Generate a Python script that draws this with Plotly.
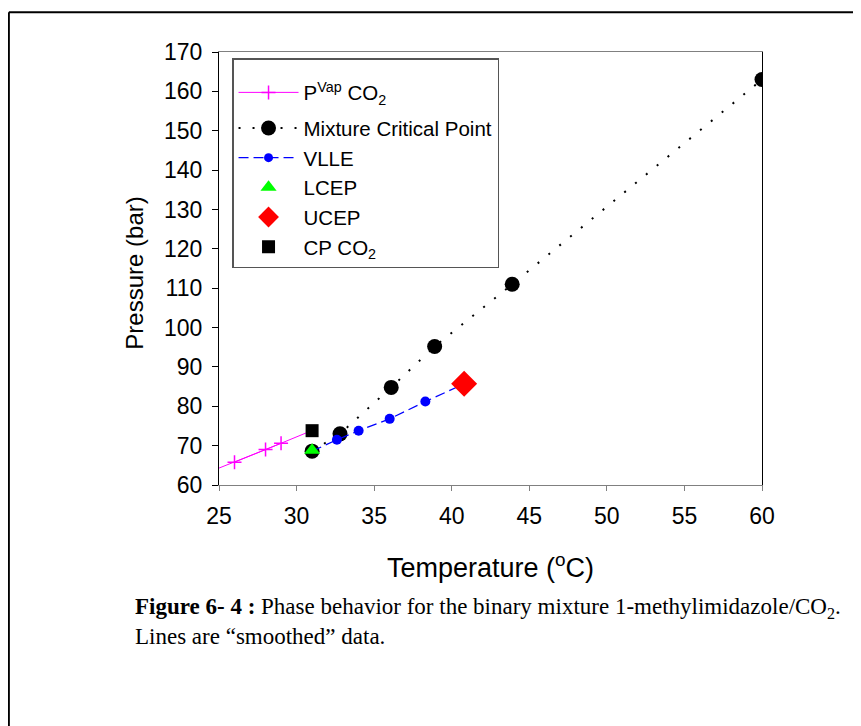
import plotly.graph_objects as go

# ---- Data ----
pvap_line_T = [25.0, 26.0, 28.0, 29.0, 30.6]
pvap_line_P = [64.3, 65.8, 69.0, 70.6, 73.2]
pvap_T = [26.0, 28.0, 29.0]
pvap_P = [65.8, 69.0, 70.6]

mcp_T = [31.0, 32.8, 36.1, 38.9, 43.9, 60.0]
mcp_P = [68.6, 73.0, 84.8, 95.2, 111.0, 163.0]

vlle_line_T = [31.0, 32.6, 34.0, 36.0, 38.3, 40.8]
vlle_line_P = [68.6, 71.5, 73.8, 76.8, 81.2, 85.7]
vlle_T = [32.6, 34.0, 36.0, 38.3]
vlle_P = [71.5, 73.8, 76.8, 81.2]

lcep_T = [31.0]
lcep_P = [68.8]
ucep_T = [40.8]
ucep_P = [85.7]
cp_T = [31.0]
cp_P = [73.8]

x_ticks = [25, 30, 35, 40, 45, 50, 55, 60]
y_ticks = [60, 70, 80, 90, 100, 110, 120, 130, 140, 150, 160, 170]

SANS = "Liberation Sans, Arial"
SERIF = "Liberation Serif, Times New Roman"
MAG = "#ff00ff"
BLUE = "#0000ff"
DOT = "2px,12px"
DASH = "10px,5px"

fig = go.Figure()
# P vap CO2
fig.add_trace(go.Scatter(x=pvap_line_T, y=pvap_line_P, mode="lines", showlegend=False,
                         legendgroup="a", line=dict(color=MAG, width=1), hoverinfo="skip"))
fig.add_trace(go.Scatter(x=pvap_T, y=pvap_P, mode="lines+markers", legendgroup="a",
                         name="P<sup>Vap</sup> CO<sub>2</sub>",
                         line=dict(color=MAG, width=1),
                         marker=dict(symbol="cross-thin", size=10,
                                     line=dict(color=MAG, width=1.5))))
# Mixture critical point
fig.add_trace(go.Scatter(x=mcp_T, y=mcp_P, mode="lines+markers", legendgroup="b",
                         name="Mixture Critical Point",
                         line=dict(color="black", width=2, dash=DOT),
                         marker=dict(symbol="circle", size=15, color="black")))
# VLLE
fig.add_trace(go.Scatter(x=vlle_line_T, y=vlle_line_P, mode="lines", showlegend=False,
                         legendgroup="b",
                         line=dict(color=BLUE, width=1.2, dash=DASH), hoverinfo="skip"))
fig.add_trace(go.Scatter(x=vlle_T, y=vlle_P, mode="markers", showlegend=False,
                         legendgroup="b",
                         marker=dict(symbol="circle", size=10, color=BLUE)))
fig.add_trace(go.Scatter(x=[None], y=[None], mode="lines+markers", name="VLLE",
                         legendgroup="b",
                         line=dict(color=BLUE, width=1.2, dash=DASH),
                         marker=dict(symbol="circle", size=9, color=BLUE)))
# End points
fig.add_trace(go.Scatter(x=lcep_T, y=lcep_P, mode="markers", name="LCEP", legendgroup="b",
                         marker=dict(symbol="triangle-up", size=14, color="#00ff00",
                                     line=dict(width=0))))
fig.add_trace(go.Scatter(x=ucep_T, y=ucep_P, mode="markers", name="UCEP", legendgroup="b",
                         marker=dict(symbol="diamond", size=20, color="#ff0000")))
fig.add_trace(go.Scatter(x=cp_T, y=cp_P, mode="markers", name="CP CO<sub>2</sub>",
                         legendgroup="b",
                         marker=dict(symbol="square", size=13, color="black")))

tickfont = dict(family=SANS, size=23, color="black")
fig.update_xaxes(range=[25, 60], tickvals=x_ticks, showline=True, mirror=True,
                 linecolor="#808080", linewidth=1.3, ticks="outside", ticklen=5,
                 tickcolor="#808080", tickwidth=1.3, showgrid=False, zeroline=False,
                 tickfont=tickfont, ticklabelstandoff=5)
fig.update_yaxes(range=[60, 170], tickvals=y_ticks, showline=True, mirror=True,
                 linecolor="black", linewidth=1.3, ticks="outside", ticklen=6,
                 tickcolor="black", tickwidth=1.2, showgrid=False, zeroline=False,
                 tickfont=tickfont, ticklabelstandoff=5)

fig.update_layout(
    width=861, height=726,
    margin=dict(l=211, r=107, t=44, b=249),
    plot_bgcolor="white", paper_bgcolor="white",
    showlegend=True,
    legend=dict(x=0.024, y=0.986, xanchor="left", yanchor="top",
                bgcolor="white", bordercolor="#555555", borderwidth=1.5,
                font=dict(family=SANS, size=20.5, color="black"),
                title=dict(text=" ", font=dict(size=10)),
                itemwidth=60, tracegroupgap=6),
    annotations=[
        dict(text="Temperature (<sup>o</sup>C)", xref="paper", yref="paper",
             x=0.5, y=-0.187, xanchor="center", yanchor="middle", showarrow=False,
             font=dict(family=SANS, size=27, color="black")),
        dict(text="Pressure (bar)", xref="paper", yref="paper", textangle=-90,
             x=-0.155, y=0.49, xanchor="center", yanchor="middle", showarrow=False,
             font=dict(family=SANS, size=24, color="black")),
        dict(text="<b>Figure 6- 4 :</b> Phase behavior for the binary mixture 1-methylimidazole/CO<sub>2</sub>.",
             xref="paper", yref="paper", x=-0.158, y=-0.284, xanchor="left", yanchor="middle",
             showarrow=False, font=dict(family=SERIF, size=23, color="black")),
        dict(text="Lines are \u201csmoothed\u201d data.",
             xref="paper", yref="paper", x=-0.158, y=-0.349, xanchor="left", yanchor="middle",
             showarrow=False, font=dict(family=SERIF, size=23, color="black")),
    ],
    shapes=[
        dict(type="line", xref="paper", yref="paper", x0=-0.387, x1=1.3, y0=1.092, y1=1.092,
             line=dict(color="black", width=2)),
        dict(type="line", xref="paper", yref="paper", x0=-0.387, x1=-0.387, y0=1.092, y1=-0.7,
             line=dict(color="black", width=2)),
    ],
)

fig.write_html("out.html")
